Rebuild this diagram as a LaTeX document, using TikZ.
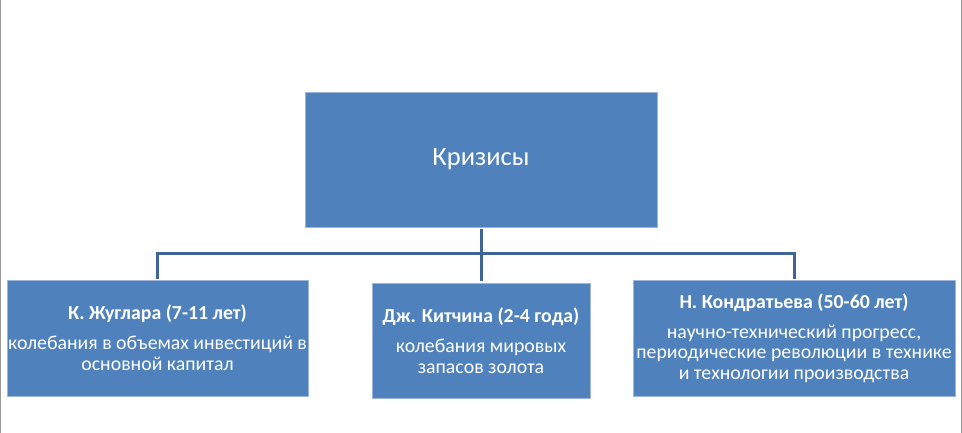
\documentclass[tikz,border=0pt]{standalone}
\usepackage{fontspec}
\setmainfont{Carlito}
\usepackage{tikz}
\definecolor{boxblue}{HTML}{4F81BD}
\definecolor{edgeblue}{HTML}{9DB5DA}
\definecolor{linkblue}{HTML}{3E6596}
\definecolor{framegray}{HTML}{9A9A9A}
\tikzset{
  cyclebox/.style = {rectangle,fill=boxblue,draw=edgeblue,line width=0.6pt,
                     text=white,inner sep=0pt,align=center,
                     font=\fontsize{19.8}{20.7}\selectfont},
  topbox/.style   = {cyclebox,font=\fontsize{26.5}{31}\selectfont},
  link/.style     = {linkblue,line width=3pt,shorten <=2pt,shorten >=2pt},
  frameline/.style= {framegray,line width=1.2pt}
}
\newcommand{\cyclehead}[1]{\textbf{#1}\\[9.3pt]}

\begin{document}
\begin{tikzpicture}[x=1pt,y=-1pt]
  \useasboundingbox (0,0) rectangle (962,433);
  \draw[frameline] (0.6,0) -- (0.6,433);
  \draw[frameline] (961.2,0) -- (961.2,433);
  \node[topbox,minimum width=352pt,minimum height=135pt] (crisis) at (481,159.5) {Кризисы};
  \node[cyclebox,minimum width=301pt,minimum height=116pt] (jug) at (157.5,338)
    {\cyclehead{К. Жуглара (7-11 лет)}колебания в объемах инвестиций в\\основной капитал};
  \node[cyclebox,minimum width=218pt,minimum height=115pt] (kit) at (481,340.5)
    {\cyclehead{Дж. Китчина (2-4 года)}колебания мировых\\запасов золота};
  \node[cyclebox,minimum width=322pt,minimum height=116pt] (kon) at (794,338)
    {\cyclehead{Н. Кондратьева (50-60 лет)}научно-технический прогресс,\\периодические революции в технике\\и технологии производства};
  \coordinate (bus) at (481,253);
  \draw[link] (crisis.south) -- (kit.north);
  \draw[link,line cap=rect] (jug.north) |- (bus) -| (kon.north);
\end{tikzpicture}
\end{document}
